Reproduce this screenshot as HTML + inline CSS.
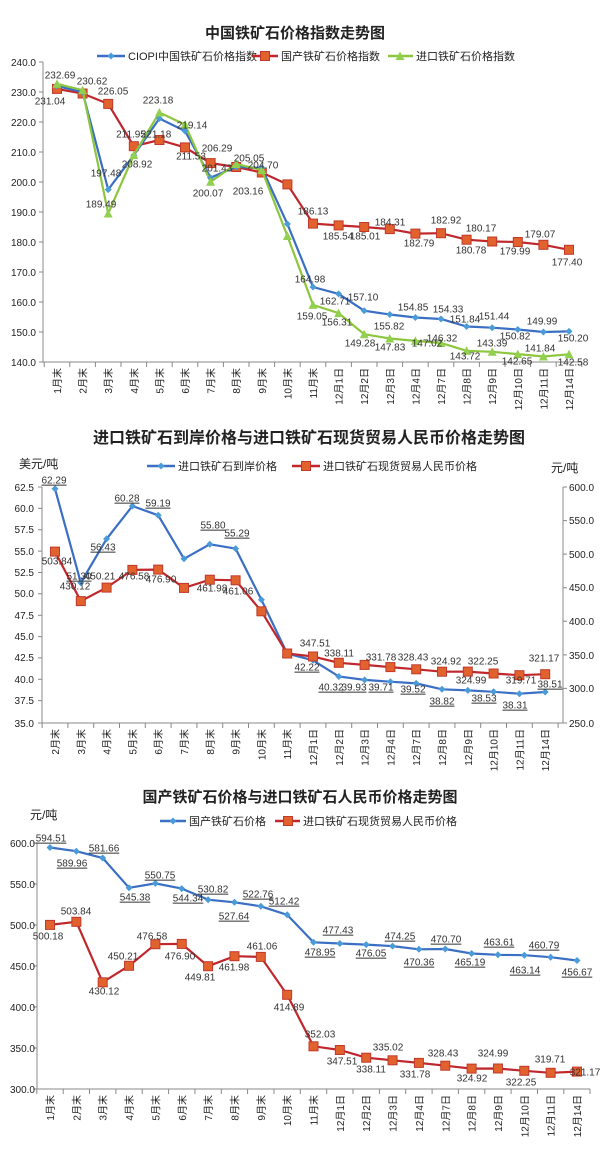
<!DOCTYPE html>
<html><head><meta charset="utf-8"><style>
html,body{margin:0;padding:0;background:#fff}
svg{display:block;font-family:"Liberation Sans","Noto Sans CJK SC",sans-serif}
.t{font-weight:bold;fill:#222;text-anchor:middle}
.ax{font-size:10px;fill:#222}
.l{font-size:10px;fill:#333;text-anchor:middle;dominant-baseline:middle}
.u{text-decoration:underline}
.lg{font-size:11px;fill:#222;dominant-baseline:middle}
</style></head><body>
<svg width="603" height="1156" viewBox="0 0 603 1156" xmlns="http://www.w3.org/2000/svg">
<defs>
<symbol id="d" viewBox="-4 -4 8 8" overflow="visible"><path d="M0,-3.5L3.5,0L0,3.5L-3.5,0Z" fill="#4A9BD8"/></symbol>
<symbol id="s" viewBox="-5 -5 10 10" overflow="visible"><rect x="-4.5" y="-4.5" width="9" height="9" fill="#E2622D" stroke="#C0392B" stroke-width="1"/></symbol>
<symbol id="g" viewBox="-5 -5 10 10" overflow="visible"><path d="M0,-4.5L4.5,4L-4.5,4Z" fill="#92D050"/></symbol>
</defs>
<rect width="603" height="1156" fill="#fff"/>

<!-- ============ CHART 1 ============ -->
<text class="t" x="295" y="38" font-size="15">中国铁矿石价格指数走势图</text>
<line x1="97" y1="56" x2="125" y2="56" stroke="#3A6FC4" stroke-width="2.5"/><use href="#d" x="107" y="52" width="8" height="8"/>
<text class="lg" x="128" y="57">CIOPI中国铁矿石价格指数</text>
<line x1="252" y1="56" x2="278" y2="56" stroke="#C0272D" stroke-width="2.5"/><use href="#s" x="260" y="51" width="10" height="10"/>
<text class="lg" x="281" y="57">国产铁矿石价格指数</text>
<line x1="388" y1="56" x2="413" y2="56" stroke="#8DC63F" stroke-width="2.5"/><use href="#g" x="395" y="51" width="10" height="10"/>
<text class="lg" x="416" y="57">进口铁矿石价格指数</text>

<g stroke="#888" stroke-width="1">
<line x1="43" y1="62" x2="43" y2="362"/><line x1="43" y1="362" x2="582" y2="362"/>
<path d="M39,62h4M39,92h4M39,122h4M39,152h4M39,182h4M39,212h4M39,242h4M39,272h4M39,302h4M39,332h4M39,362h4"/>
<path d="M44.2,362v5M69.8,362v5M95.4,362v5M121,362v5M146.6,362v5M172.2,362v5M197.8,362v5M223.4,362v5M249,362v5M274.6,362v5M300.2,362v5M325.8,362v5M351.4,362v5M377,362v5M402.6,362v5M428.2,362v5M453.8,362v5M479.4,362v5M505,362v5M530.6,362v5M556.2,362v5M581.8,362v5"/>
</g>
<g class="ax" text-anchor="end">
<text x="36" y="66">240.0</text><text x="36" y="96">230.0</text><text x="36" y="126">220.0</text><text x="36" y="156">210.0</text><text x="36" y="186">200.0</text><text x="36" y="216">190.0</text><text x="36" y="246">180.0</text><text x="36" y="276">170.0</text><text x="36" y="306">160.0</text><text x="36" y="336">150.0</text><text x="36" y="366">140.0</text>
</g>
<g class="ax" text-anchor="end">
<text transform="translate(61,368) rotate(-90)">1月末</text><text transform="translate(86.6,368) rotate(-90)">2月末</text><text transform="translate(112.2,368) rotate(-90)">3月末</text><text transform="translate(137.8,368) rotate(-90)">4月末</text><text transform="translate(163.4,368) rotate(-90)">5月末</text><text transform="translate(189,368) rotate(-90)">6月末</text><text transform="translate(214.6,368) rotate(-90)">7月末</text><text transform="translate(240.2,368) rotate(-90)">8月末</text><text transform="translate(265.8,368) rotate(-90)">9月末</text><text transform="translate(291.4,368) rotate(-90)">10月末</text><text transform="translate(317,368) rotate(-90)">11月末</text><text transform="translate(342.6,368) rotate(-90)">12月1日</text><text transform="translate(368.2,368) rotate(-90)">12月2日</text><text transform="translate(393.8,368) rotate(-90)">12月3日</text><text transform="translate(419.4,368) rotate(-90)">12月4日</text><text transform="translate(445,368) rotate(-90)">12月7日</text><text transform="translate(470.6,368) rotate(-90)">12月8日</text><text transform="translate(496.2,368) rotate(-90)">12月9日</text><text transform="translate(521.8,368) rotate(-90)">12月10日</text><text transform="translate(547.4,368) rotate(-90)">12月11日</text><text transform="translate(573,368) rotate(-90)">12月14日</text>
</g>
<!-- red -->
<polyline fill="none" stroke="#C0272D" stroke-width="2.2" points="57,88.9 82.6,93.5 108.2,103.9 133.8,146.2 159.4,140 185,147.4 210.6,163.1 236.2,167 261.8,172.5 287.4,184.4 313,223.6 338.6,225.4 364.2,227 389.8,229.1 415.4,233.6 441,233.2 466.6,239.7 492.2,241.5 517.8,242 543.4,244.8 569,249.8"/>
<g>
<use href="#s" x="52" y="83.9" width="10" height="10"/><use href="#s" x="77.6" y="88.5" width="10" height="10"/><use href="#s" x="103.2" y="98.9" width="10" height="10"/><use href="#s" x="128.8" y="141.2" width="10" height="10"/><use href="#s" x="154.4" y="135" width="10" height="10"/><use href="#s" x="180" y="142.4" width="10" height="10"/><use href="#s" x="205.6" y="158.1" width="10" height="10"/><use href="#s" x="231.2" y="162" width="10" height="10"/><use href="#s" x="256.8" y="167.5" width="10" height="10"/><use href="#s" x="282.4" y="179.4" width="10" height="10"/><use href="#s" x="308" y="218.6" width="10" height="10"/><use href="#s" x="333.6" y="220.4" width="10" height="10"/><use href="#s" x="359.2" y="222" width="10" height="10"/><use href="#s" x="384.8" y="224.1" width="10" height="10"/><use href="#s" x="410.4" y="228.6" width="10" height="10"/><use href="#s" x="436" y="228.2" width="10" height="10"/><use href="#s" x="461.6" y="234.7" width="10" height="10"/><use href="#s" x="487.2" y="236.5" width="10" height="10"/><use href="#s" x="512.8" y="237" width="10" height="10"/><use href="#s" x="538.4" y="239.8" width="10" height="10"/><use href="#s" x="564" y="244.8" width="10" height="10"/>
</g>
<!-- blue -->
<polyline fill="none" stroke="#3A6FC4" stroke-width="2.2" points="57,86 82.6,92 108.2,189.6 133.8,155.2 159.4,118.5 185,131 210.6,177.7 236.2,166.9 261.8,167.9 287.4,224 313,287 338.6,293.9 364.2,310.7 389.8,314.5 415.4,317.5 441,319 466.6,326.5 492.2,327.7 517.8,329.5 543.4,332 569,331.4"/>
<!-- green -->
<polyline fill="none" stroke="#8DC63F" stroke-width="2.2" points="57,83.9 82.6,90.1 108.2,213.5 133.8,155 159.4,112.5 185,124.6 210.6,181.8 236.2,164 261.8,170 287.4,236 313,304.9 338.6,313.1 364.2,334.2 389.8,338.5 415.4,340.9 441,343 466.6,350.8 492.2,351.8 517.8,354.1 543.4,356.5 569,354.3"/>
<g>
<use href="#d" x="53" y="82" width="8" height="8"/><use href="#d" x="78.6" y="88" width="8" height="8"/><use href="#d" x="104.2" y="185.6" width="8" height="8"/><use href="#d" x="129.8" y="151.2" width="8" height="8"/><use href="#d" x="155.4" y="114.5" width="8" height="8"/><use href="#d" x="181" y="127" width="8" height="8"/><use href="#d" x="206.6" y="173.7" width="8" height="8"/><use href="#d" x="232.2" y="162.9" width="8" height="8"/><use href="#d" x="257.8" y="163.9" width="8" height="8"/><use href="#d" x="283.4" y="220" width="8" height="8"/><use href="#d" x="309" y="283" width="8" height="8"/><use href="#d" x="334.6" y="289.9" width="8" height="8"/><use href="#d" x="360.2" y="306.7" width="8" height="8"/><use href="#d" x="385.8" y="310.5" width="8" height="8"/><use href="#d" x="411.4" y="313.5" width="8" height="8"/><use href="#d" x="437" y="315" width="8" height="8"/><use href="#d" x="462.6" y="322.5" width="8" height="8"/><use href="#d" x="488.2" y="323.7" width="8" height="8"/><use href="#d" x="513.8" y="325.5" width="8" height="8"/><use href="#d" x="539.4" y="328" width="8" height="8"/><use href="#d" x="565" y="327.4" width="8" height="8"/>
</g>
<g>
<use href="#g" x="52" y="78.9" width="10" height="10"/><use href="#g" x="77.6" y="85.1" width="10" height="10"/><use href="#g" x="103.2" y="208.5" width="10" height="10"/><use href="#g" x="128.8" y="150" width="10" height="10"/><use href="#g" x="154.4" y="107.5" width="10" height="10"/><use href="#g" x="180" y="119.6" width="10" height="10"/><use href="#g" x="205.6" y="176.8" width="10" height="10"/><use href="#g" x="231.2" y="159" width="10" height="10"/><use href="#g" x="256.8" y="165" width="10" height="10"/><use href="#g" x="282.4" y="231" width="10" height="10"/><use href="#g" x="308" y="299.9" width="10" height="10"/><use href="#g" x="333.6" y="308.1" width="10" height="10"/><use href="#g" x="359.2" y="329.2" width="10" height="10"/><use href="#g" x="384.8" y="333.5" width="10" height="10"/><use href="#g" x="410.4" y="335.9" width="10" height="10"/><use href="#g" x="436" y="338" width="10" height="10"/><use href="#g" x="461.6" y="345.8" width="10" height="10"/><use href="#g" x="487.2" y="346.8" width="10" height="10"/><use href="#g" x="512.8" y="349.1" width="10" height="10"/><use href="#g" x="538.4" y="351.5" width="10" height="10"/><use href="#g" x="564" y="349.3" width="10" height="10"/>
</g>
<g class="l">
<text x="60" y="76">232.69</text><text x="92" y="82">230.62</text><text x="50" y="102">231.04</text><text x="113" y="92">226.05</text><text x="158" y="101">223.18</text><text x="192" y="126">219.14</text><text x="131" y="135">211.95</text><text x="156" y="135">221.18</text><text x="217" y="149">206.29</text><text x="191" y="157">211.53</text><text x="137" y="165">208.92</text><text x="217" y="169">201.43</text><text x="249" y="159">205.05</text><text x="263" y="166">204.70</text><text x="106" y="174">197.48</text><text x="248" y="192">203.16</text><text x="208" y="194">200.07</text>
<text x="101" y="205">189.49</text><text x="313" y="212">186.13</text><text x="390" y="223">184.31</text><text x="446" y="221">182.92</text><text x="481" y="229">180.17</text><text x="540" y="235">179.07</text><text x="338" y="237">185.54</text><text x="365" y="237">185.01</text><text x="419" y="244">182.79</text><text x="471" y="251">180.78</text><text x="515" y="252">179.99</text><text x="567" y="263">177.40</text>
<text x="310" y="280">164.98</text><text x="335" y="302">162.71</text><text x="363" y="298">157.10</text><text x="413" y="308">154.85</text><text x="448" y="310">154.33</text><text x="465" y="320">151.84</text><text x="494" y="317">151.44</text><text x="542" y="322">149.99</text><text x="312" y="317">159.05</text><text x="337" y="323">156.31</text><text x="389" y="327">155.82</text><text x="515" y="337">150.82</text><text x="573" y="339">150.20</text><text x="360" y="344">149.28</text><text x="390" y="348">147.83</text><text x="427" y="344">147.02</text><text x="442" y="339">146.32</text><text x="492" y="344">143.39</text><text x="465" y="357">143.72</text><text x="517" y="362">142.65</text><text x="540" y="349">141.84</text><text x="573" y="363">142.58</text>
</g>

<!-- ============ CHART 2 ============ -->
<text class="t" x="309" y="443" font-size="16">进口铁矿石到岸价格与进口铁矿石现货贸易人民币价格走势图</text>
<text x="19" y="468" font-size="12" fill="#222">美元/吨</text>
<text x="551" y="472" font-size="12" fill="#222">元/吨</text>
<line x1="147" y1="466" x2="175" y2="466" stroke="#3A6FC4" stroke-width="2.5"/><use href="#d" x="157" y="462" width="8" height="8"/>
<text class="lg" x="178" y="467">进口铁矿石到岸价格</text>
<line x1="292" y1="466" x2="320" y2="466" stroke="#C0272D" stroke-width="2.5"/><use href="#s" x="301" y="461" width="10" height="10"/>
<text class="lg" x="323" y="467">进口铁矿石现货贸易人民币价格</text>
<g stroke="#888" stroke-width="1">
<line x1="42" y1="487" x2="42" y2="723"/><line x1="42" y1="723" x2="563" y2="723"/><line x1="563" y1="487" x2="563" y2="723"/>
<path d="M38,487h4M38,508.4h4M38,529.7h4M38,551.1h4M38,572.5h4M38,593.8h4M38,615.2h4M38,636.6h4M38,657.9h4M38,679.3h4M38,700.6h4M38,723h4"/>
<path d="M563,487h4M563,520.6h4M563,554.1h4M563,587.7h4M563,621.3h4M563,654.9h4M563,688.4h4M563,723h4"/>
<path d="M42.1,723v5M67.9,723v5M93.7,723v5M119.5,723v5M145.3,723v5M171.1,723v5M196.9,723v5M222.7,723v5M248.5,723v5M274.3,723v5M300.1,723v5M325.9,723v5M351.7,723v5M377.5,723v5M403.3,723v5M429.1,723v5M454.9,723v5M480.7,723v5M506.5,723v5M532.3,723v5M558.1,723v5"/>
</g>
<g class="ax" text-anchor="end">
<text x="34" y="491">62.5</text><text x="34" y="512">60.0</text><text x="34" y="533">57.5</text><text x="34" y="555">55.0</text><text x="34" y="576">52.5</text><text x="34" y="597">50.0</text><text x="34" y="619">47.5</text><text x="34" y="640">45.0</text><text x="34" y="661">42.5</text><text x="34" y="683">40.0</text><text x="34" y="704">37.5</text><text x="34" y="727">35.0</text>
</g>
<g class="ax">
<text x="569" y="491">600.0</text><text x="569" y="524">550.0</text><text x="569" y="558">500.0</text><text x="569" y="591">450.0</text><text x="569" y="625">400.0</text><text x="569" y="659">350.0</text><text x="569" y="692">300.0</text><text x="569" y="727">250.0</text>
</g>
<g class="ax" text-anchor="end">
<text transform="translate(59,729) rotate(-90)">2月末</text><text transform="translate(84.8,729) rotate(-90)">3月末</text><text transform="translate(110.6,729) rotate(-90)">4月末</text><text transform="translate(136.4,729) rotate(-90)">5月末</text><text transform="translate(162.2,729) rotate(-90)">6月末</text><text transform="translate(188,729) rotate(-90)">7月末</text><text transform="translate(213.8,729) rotate(-90)">8月末</text><text transform="translate(239.6,729) rotate(-90)">9月末</text><text transform="translate(265.4,729) rotate(-90)">10月末</text><text transform="translate(291.2,729) rotate(-90)">11月末</text><text transform="translate(317,729) rotate(-90)">12月1日</text><text transform="translate(342.8,729) rotate(-90)">12月2日</text><text transform="translate(368.6,729) rotate(-90)">12月3日</text><text transform="translate(394.4,729) rotate(-90)">12月4日</text><text transform="translate(420.2,729) rotate(-90)">12月7日</text><text transform="translate(446,729) rotate(-90)">12月8日</text><text transform="translate(471.8,729) rotate(-90)">12月9日</text><text transform="translate(497.6,729) rotate(-90)">12月10日</text><text transform="translate(523.4,729) rotate(-90)">12月11日</text><text transform="translate(549.2,729) rotate(-90)">12月14日</text>
</g>
<polyline fill="none" stroke="#3A6FC4" stroke-width="2.2" points="55,488.8 80.8,582.7 106.6,538.9 132.4,506 158.2,515.3 184,558.8 209.8,544.3 235.6,548.6 261.4,599.8 287.2,653.6 313,660.3 338.8,676.5 364.6,679.9 390.4,681.7 416.2,683.4 442,689.3 467.8,690.4 493.6,691.8 519.4,693.7 545.2,692"/>
<g>
<use href="#d" x="51" y="484.8" width="8" height="8"/><use href="#d" x="76.8" y="578.7" width="8" height="8"/><use href="#d" x="102.6" y="534.9" width="8" height="8"/><use href="#d" x="128.4" y="502" width="8" height="8"/><use href="#d" x="154.2" y="511.3" width="8" height="8"/><use href="#d" x="180" y="554.8" width="8" height="8"/><use href="#d" x="205.8" y="540.3" width="8" height="8"/><use href="#d" x="231.6" y="544.6" width="8" height="8"/><use href="#d" x="257.4" y="595.8" width="8" height="8"/><use href="#d" x="283.2" y="649.6" width="8" height="8"/><use href="#d" x="309" y="656.3" width="8" height="8"/><use href="#d" x="334.8" y="672.5" width="8" height="8"/><use href="#d" x="360.6" y="675.9" width="8" height="8"/><use href="#d" x="386.4" y="677.7" width="8" height="8"/><use href="#d" x="412.2" y="679.4" width="8" height="8"/><use href="#d" x="438" y="685.3" width="8" height="8"/><use href="#d" x="463.8" y="686.4" width="8" height="8"/><use href="#d" x="489.6" y="687.8" width="8" height="8"/><use href="#d" x="515.4" y="689.7" width="8" height="8"/><use href="#d" x="541.2" y="688" width="8" height="8"/>
</g>
<polyline fill="none" stroke="#C0272D" stroke-width="2.2" points="55,551.6 80.8,601.1 106.6,587.6 132.4,569.9 158.2,569.6 184,587.9 209.8,579.7 235.6,580.3 261.4,611.3 287.2,653.5 313,656.5 338.8,662.8 364.6,664.9 390.4,667.1 416.2,669.3 442,671.7 467.8,671.6 493.6,673.5 519.4,675.2 545.2,674.2"/>
<g>
<use href="#s" x="50" y="546.6" width="10" height="10"/><use href="#s" x="75.8" y="596.1" width="10" height="10"/><use href="#s" x="101.6" y="582.6" width="10" height="10"/><use href="#s" x="127.4" y="564.9" width="10" height="10"/><use href="#s" x="153.2" y="564.6" width="10" height="10"/><use href="#s" x="179" y="582.9" width="10" height="10"/><use href="#s" x="204.8" y="574.7" width="10" height="10"/><use href="#s" x="230.6" y="575.3" width="10" height="10"/><use href="#s" x="256.4" y="606.3" width="10" height="10"/><use href="#s" x="282.2" y="648.5" width="10" height="10"/><use href="#s" x="308" y="651.5" width="10" height="10"/><use href="#s" x="333.8" y="657.8" width="10" height="10"/><use href="#s" x="359.6" y="659.9" width="10" height="10"/><use href="#s" x="385.4" y="662.1" width="10" height="10"/><use href="#s" x="411.2" y="664.3" width="10" height="10"/><use href="#s" x="437" y="666.7" width="10" height="10"/><use href="#s" x="462.8" y="666.6" width="10" height="10"/><use href="#s" x="488.6" y="668.5" width="10" height="10"/><use href="#s" x="514.4" y="670.2" width="10" height="10"/><use href="#s" x="540.2" y="669.2" width="10" height="10"/>
</g>
<g class="l">
<text class="u" x="54" y="481">62.29</text><text class="u" x="127" y="499">60.28</text><text class="u" x="158" y="504">59.19</text><text class="u" x="213" y="526">55.80</text><text class="u" x="237" y="534">55.29</text><text class="u" x="103" y="548">56.43</text><text class="u" x="79" y="577">51.30</text>
<text x="57" y="562">503.84</text><text x="100" y="577">450.21</text><text x="75" y="587">430.12</text><text x="134" y="577">476.58</text><text x="161" y="580">476.90</text><text x="212" y="589">461.98</text><text x="238" y="592">461.06</text><text x="315" y="644">347.51</text><text x="339" y="654">338.11</text><text x="381" y="658">331.78</text><text x="413" y="658">328.43</text><text x="446" y="662">324.92</text><text x="483" y="662">322.25</text><text x="544" y="659">321.17</text><text x="471" y="681">324.99</text><text x="521" y="681">319.71</text>
<text class="u" x="307" y="668">42.22</text><text class="u" x="331" y="688">40.32</text><text class="u" x="354" y="688">39.93</text><text class="u" x="381" y="688">39.71</text><text class="u" x="413" y="690">39.52</text><text class="u" x="550" y="685">38.51</text><text class="u" x="442" y="702">38.82</text><text class="u" x="484" y="699">38.53</text><text class="u" x="515" y="706">38.31</text>
</g>

<!-- ============ CHART 3 ============ -->
<text class="t" x="300" y="802" font-size="15">国产铁矿石价格与进口铁矿石人民币价格走势图</text>
<text x="30" y="819" font-size="12" fill="#222">元/吨</text>
<line x1="160" y1="821" x2="186" y2="821" stroke="#3A6FC4" stroke-width="2.5"/><use href="#d" x="169" y="817" width="8" height="8"/>
<text class="lg" x="189" y="822">国产铁矿石价格</text>
<line x1="275" y1="821" x2="300" y2="821" stroke="#C0272D" stroke-width="2.5"/><use href="#s" x="283" y="816" width="10" height="10"/>
<text class="lg" x="303" y="822">进口铁矿石现货贸易人民币价格</text>
<g stroke="#888" stroke-width="1">
<line x1="37" y1="843" x2="37" y2="1089"/><line x1="37" y1="1089" x2="590" y2="1089"/>
<path d="M33,843h4M33,884h4M33,925h4M33,966h4M33,1007h4M33,1048h4M33,1089h4"/>
<path d="M36.8,1089v5M63.2,1089v5M89.5,1089v5M115.9,1089v5M142.2,1089v5M168.6,1089v5M194.9,1089v5M221.3,1089v5M247.6,1089v5M274,1089v5M300.3,1089v5M326.7,1089v5M353,1089v5M379.4,1089v5M405.7,1089v5M432.1,1089v5M458.4,1089v5M484.8,1089v5M511.1,1089v5M537.5,1089v5M563.8,1089v5M590,1089v5"/>
</g>
<g class="ax" text-anchor="end">
<text x="35" y="847">600.0</text><text x="35" y="888">550.0</text><text x="35" y="929">500.0</text><text x="35" y="970">450.0</text><text x="35" y="1011">400.0</text><text x="35" y="1052">350.0</text><text x="35" y="1093">300.0</text>
</g>
<g class="ax" text-anchor="end">
<text transform="translate(54,1095) rotate(-90)">1月末</text><text transform="translate(80.35,1095) rotate(-90)">2月末</text><text transform="translate(106.7,1095) rotate(-90)">3月末</text><text transform="translate(133.05,1095) rotate(-90)">4月末</text><text transform="translate(159.4,1095) rotate(-90)">5月末</text><text transform="translate(185.75,1095) rotate(-90)">6月末</text><text transform="translate(212.1,1095) rotate(-90)">7月末</text><text transform="translate(238.45,1095) rotate(-90)">8月末</text><text transform="translate(264.8,1095) rotate(-90)">9月末</text><text transform="translate(291.15,1095) rotate(-90)">10月末</text><text transform="translate(317.5,1095) rotate(-90)">11月末</text><text transform="translate(343.85,1095) rotate(-90)">12月1日</text><text transform="translate(370.2,1095) rotate(-90)">12月2日</text><text transform="translate(396.55,1095) rotate(-90)">12月3日</text><text transform="translate(422.9,1095) rotate(-90)">12月4日</text><text transform="translate(449.25,1095) rotate(-90)">12月7日</text><text transform="translate(475.6,1095) rotate(-90)">12月8日</text><text transform="translate(501.95,1095) rotate(-90)">12月9日</text><text transform="translate(528.3,1095) rotate(-90)">12月10日</text><text transform="translate(554.65,1095) rotate(-90)">12月11日</text><text transform="translate(581,1095) rotate(-90)">12月14日</text>
</g>
<polyline fill="none" stroke="#3A6FC4" stroke-width="2.2" points="50,847.5 76.35,851.2 102.7,858 129.05,887.8 155.4,883.4 181.75,888.6 208.1,899.7 234.45,902.3 260.8,906.3 287.15,914.8 313.5,942.3 339.85,943.5 366.2,944.6 392.55,946.1 418.9,949.3 445.25,949 471.6,953.5 497.95,954.8 524.3,955.2 550.65,957.2 577,960.5"/>
<g>
<use href="#d" x="46" y="843.5" width="8" height="8"/><use href="#d" x="72.35" y="847.2" width="8" height="8"/><use href="#d" x="98.7" y="854" width="8" height="8"/><use href="#d" x="125.05" y="883.8" width="8" height="8"/><use href="#d" x="151.4" y="879.4" width="8" height="8"/><use href="#d" x="177.75" y="884.6" width="8" height="8"/><use href="#d" x="204.1" y="895.7" width="8" height="8"/><use href="#d" x="230.45" y="898.3" width="8" height="8"/><use href="#d" x="256.8" y="902.3" width="8" height="8"/><use href="#d" x="283.15" y="910.8" width="8" height="8"/><use href="#d" x="309.5" y="938.3" width="8" height="8"/><use href="#d" x="335.85" y="939.5" width="8" height="8"/><use href="#d" x="362.2" y="940.6" width="8" height="8"/><use href="#d" x="388.55" y="942.1" width="8" height="8"/><use href="#d" x="414.9" y="945.3" width="8" height="8"/><use href="#d" x="441.25" y="945" width="8" height="8"/><use href="#d" x="467.6" y="949.5" width="8" height="8"/><use href="#d" x="493.95" y="950.8" width="8" height="8"/><use href="#d" x="520.3" y="951.2" width="8" height="8"/><use href="#d" x="546.65" y="953.2" width="8" height="8"/><use href="#d" x="573" y="956.5" width="8" height="8"/>
</g>
<polyline fill="none" stroke="#C0272D" stroke-width="2.2" points="50,924.9 76.35,921.8 102.7,982.3 129.05,965.8 155.4,944.2 181.75,943.9 208.1,966.2 234.45,956.2 260.8,956.9 287.15,994.8 313.5,1046.3 339.85,1050 366.2,1057.7 392.55,1060.3 418.9,1062.9 445.25,1065.7 471.6,1068.6 497.95,1068.5 524.3,1070.8 550.65,1072.8 577,1071.6"/>
<g>
<use href="#s" x="45" y="919.9" width="10" height="10"/><use href="#s" x="71.35" y="916.8" width="10" height="10"/><use href="#s" x="97.7" y="977.3" width="10" height="10"/><use href="#s" x="124.05" y="960.8" width="10" height="10"/><use href="#s" x="150.4" y="939.2" width="10" height="10"/><use href="#s" x="176.75" y="938.9" width="10" height="10"/><use href="#s" x="203.1" y="961.2" width="10" height="10"/><use href="#s" x="229.45" y="951.2" width="10" height="10"/><use href="#s" x="255.8" y="951.9" width="10" height="10"/><use href="#s" x="282.15" y="989.8" width="10" height="10"/><use href="#s" x="308.5" y="1041.3" width="10" height="10"/><use href="#s" x="334.85" y="1045" width="10" height="10"/><use href="#s" x="361.2" y="1052.7" width="10" height="10"/><use href="#s" x="387.55" y="1055.3" width="10" height="10"/><use href="#s" x="413.9" y="1057.9" width="10" height="10"/><use href="#s" x="440.25" y="1060.7" width="10" height="10"/><use href="#s" x="466.6" y="1063.6" width="10" height="10"/><use href="#s" x="492.95" y="1063.5" width="10" height="10"/><use href="#s" x="519.3" y="1065.8" width="10" height="10"/><use href="#s" x="545.65" y="1067.8" width="10" height="10"/><use href="#s" x="572" y="1066.6" width="10" height="10"/>
</g>
<g class="l">
<text class="u" x="51" y="839">594.51</text><text class="u" x="104" y="849">581.66</text><text class="u" x="72" y="864">589.96</text><text class="u" x="160" y="876">550.75</text><text class="u" x="213" y="890">530.82</text><text class="u" x="135" y="898">545.38</text><text class="u" x="188" y="899">544.34</text><text class="u" x="258" y="895">522.76</text><text class="u" x="284" y="902">512.42</text><text class="u" x="234" y="917">527.64</text><text class="u" x="338" y="931">477.43</text><text class="u" x="400" y="937">474.25</text><text class="u" x="446" y="940">470.70</text><text class="u" x="499" y="943">463.61</text><text class="u" x="544" y="946">460.79</text><text class="u" x="320" y="953">478.95</text><text class="u" x="371" y="954">476.05</text><text class="u" x="419" y="963">470.36</text><text class="u" x="470" y="963">465.19</text><text class="u" x="525" y="971">463.14</text><text class="u" x="577" y="973">456.67</text>
<text x="76" y="912">503.84</text><text x="48" y="937">500.18</text><text x="152" y="937">476.58</text><text x="123" y="957">450.21</text><text x="180" y="957">476.90</text><text x="262" y="947">461.06</text><text x="234" y="968">461.98</text><text x="200" y="978">449.81</text><text x="104" y="992">430.12</text><text x="289" y="1008">414.89</text><text x="320" y="1035">352.03</text><text x="388" y="1048">335.02</text><text x="443" y="1054">328.43</text><text x="493" y="1054">324.99</text><text x="550" y="1060">319.71</text><text x="342" y="1062">347.51</text><text x="371" y="1070">338.11</text><text x="415" y="1075">331.78</text><text x="472" y="1079">324.92</text><text x="521" y="1083">322.25</text><text x="585" y="1073">321.17</text>
</g>
</svg>
</body></html>
